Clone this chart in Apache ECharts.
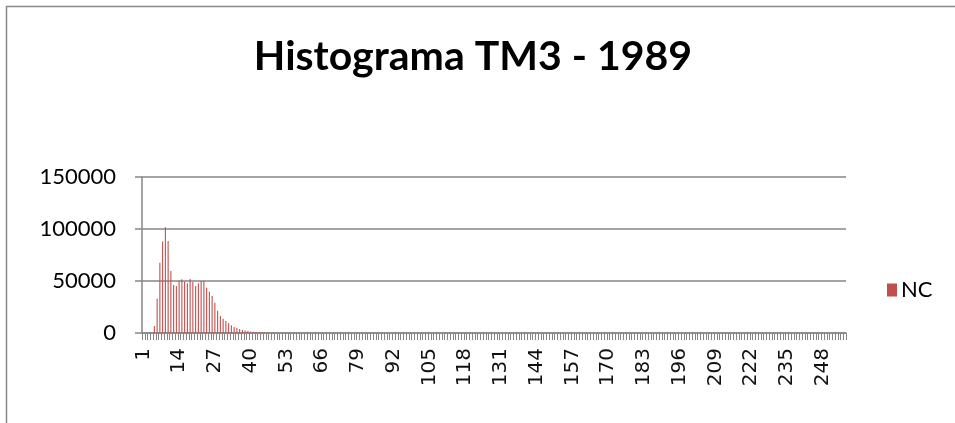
<!DOCTYPE html>
<html>
<head>
<meta charset="utf-8">
<script src="https://cdn.jsdelivr.net/npm/echarts@6/dist/echarts.min.js"></script>
<style>
  html, body { margin: 0; padding: 0; background: #fff; }
  #chart { width: 955px; height: 423px; }
</style>
</head>
<body>
<div id="chart"></div>
<script>
// categorias 1..256 (niveis de cinza)
var categories = [];
for (var c = 1; c <= 256; c++) categories.push(String(c));

// valores (classes 1..50), restante ~0
var ncHead = [
  0, 0, 0, 300, 6700, 33000, 67600, 88100, 101600, 88500,
  59600, 46100, 45200, 50300, 51600, 49400, 47800, 51900, 49000, 45300,
  47800, 50000, 50000, 43600, 39700, 35600, 29200, 21500, 16300, 13800,
  11500, 9300, 7400, 5800, 4800, 3800, 2900, 2300, 1900, 1500,
  1200, 900, 700, 500, 400, 300, 200, 150, 100, 80
];
var ncTail = [];
for (var k = ncHead.length; k < 256; k++) ncTail.push(0);
var ncValues = ncHead.concat(ncTail);

var yTicks = [0, 50000, 100000, 150000];

var chart = echarts.init(document.getElementById('chart'));
chart.setOption({
  animation: false,
  backgroundColor: '#fff',
  title: {
    text: 'Histograma TM3 - 1989',
    left: 468,
    textAlign: 'center',
    top: 31,
    textStyle: { fontFamily: 'Lato', fontWeight: 'bold', fontSize: 41, color: '#000' }
  },
  graphic: [{
    type: 'rect',
    shape: { x: 6.5, y: 6.5, width: 1000, height: 1000 },
    style: { fill: 'none', stroke: '#888', lineWidth: 1.5 },
    silent: true
  }],
  legend: {
    data: ['NC'],
    left: 887,
    top: 279,
    padding: 0,
    icon: 'rect',
    itemWidth: 10,
    itemHeight: 13,
    itemGap: 5,
    textStyle: { fontFamily: 'Lato', fontSize: 22, color: '#000', padding: [0, 0, 0, -1] }
  },
  grid: { left: 142, right: 109, top: 177, bottom: 90 },
  xAxis: {
    type: 'category',
    data: categories,
    boundaryGap: true,
    axisLine: { lineStyle: { color: '#868686', width: 1.5 } },
    axisTick: { show: true, interval: 0, length: 7, lineStyle: { color: '#868686', width: 1 } },
    axisLabel: {
      interval: 12,
      rotate: 90,
      margin: 15,
      fontFamily: 'DejaVu Sans',
      fontSize: 20,
      color: '#111'
    }
  },
  yAxis: {
    type: 'value',
    min: yTicks[0],
    max: yTicks[yTicks.length - 1],
    interval: 50000,
    axisLine: { show: true, lineStyle: { color: '#868686', width: 1.5 } },
    axisTick: { show: true, length: 7, lineStyle: { color: '#868686', width: 1.5 } },
    splitLine: { lineStyle: { color: '#868686', width: 1.5 } },
    axisLabel: {
      margin: 26,
      fontFamily: 'Lato',
      fontSize: 22,
      color: '#000',
      formatter: function (v) { return String(v); }
    }
  },
  series: [{
    name: 'NC',
    type: 'bar',
    data: ncValues,
    barWidth: 1.1,
    itemStyle: { color: '#C0504D' }
  }]
});
</script>
</body>
</html>
